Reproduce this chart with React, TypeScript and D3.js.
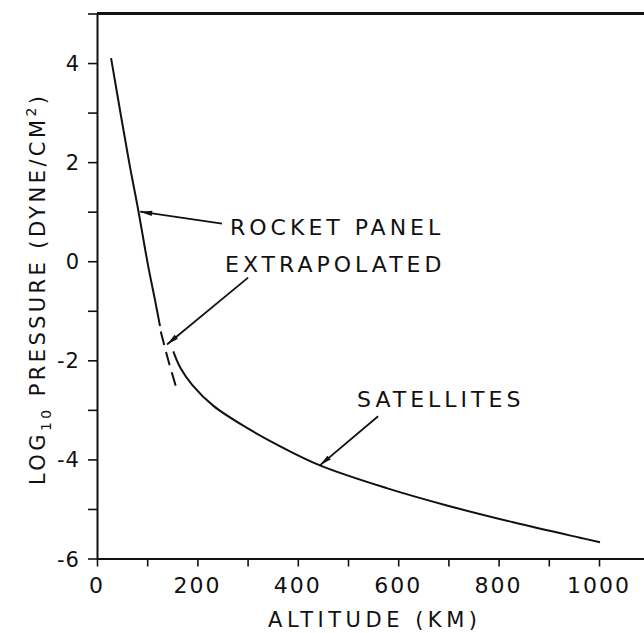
import React, { useEffect, useRef } from 'react';
import * as d3 from 'd3';

// altitude (km) vs log10 pressure (dyne/cm^2)
const rocketAlt = [28, 64, 82, 102, 115.5, 125.5];
const rocketLog = [4.1, 2.0, 1.04, -0.1, -0.78, -1.31];

const extrapAlt = [127, 142, 159];
const extrapLog = [-1.42, -2.0, -2.59];

const satAlt = [152, 166, 190, 232, 298, 364, 444, 577, 697, 829, 962, 1002];
const satLog = [-1.82, -2.15, -2.5, -2.92, -3.36, -3.73, -4.12, -4.58, -4.93, -5.27, -5.58, -5.67];

const xTicks = [0, 100, 200, 300, 400, 500, 600, 700, 800, 900, 1000, 1100];
const xTickLabels = [0, 200, 400, 600, 800, 1000];
const yTicks = [-6, -5, -4, -3, -2, -1, 0, 1, 2, 3, 4, 5];
const yTickLabels = [-6, -4, -2, 0, 2, 4];

// labels: text anchor (alt, log), arrow tail and arrow tip in data units
const noteText = ['ROCKET PANEL', 'EXTRAPOLATED', 'SATELLITES'];
const noteAt = [[265, 0.53], [255, -0.21], [518, -2.95]];
const noteTail = [[249, 0.76], [301, -0.33], [560, -3.13]];
const noteTip = [[86, 1.0], [139.5, -1.68], [444, -4.12]];

export default function App() {
  const ref = useRef<SVGSVGElement>(null);

  useEffect(() => {
    const svg = d3.select(ref.current);
    svg.selectAll('*').remove();
    const font = '"DejaVu Sans", sans-serif';

    const x = d3.scaleLinear().domain([0, 1100]).range([97, 649.2]);
    const y = d3.scaleLinear().domain([-6, 5]).range([558.5, 13.5]);

    // frame
    svg.append('line')
      .attr('x1', x(0)).attr('x2', x(1100))
      .attr('y1', y(5)).attr('y2', y(5))
      .attr('stroke', '#111').attr('stroke-width', 3);

    // x axis
    const xa = svg.append('g')
      .attr('transform', `translate(0,${y(-6)})`)
      .call(d3.axisBottom(x).tickValues(xTicks).tickSize(8).tickFormat(() => '').tickSizeOuter(0));
    xa.select('.domain').attr('stroke', '#111').attr('stroke-width', 2);
    xa.selectAll('.tick line').attr('stroke', '#111').attr('stroke-width', 1.6);

    svg.append('g').selectAll('text')
      .data(xTickLabels)
      .enter().append('text')
      .attr('x', d => x(d))
      .attr('y', 593)
      .attr('text-anchor', 'middle')
      .attr('font-family', font)
      .attr('font-size', 22)
      .attr('letter-spacing', 2)
      .attr('fill', '#111')
      .text(d => String(d));

    // y axis
    const ya = svg.append('g')
      .attr('transform', `translate(${x(0)},0)`)
      .call(d3.axisLeft(y).tickValues(yTicks).tickSize(9).tickFormat(() => '').tickSizeOuter(0));
    ya.select('.domain').attr('stroke', '#111').attr('stroke-width', 2);
    ya.selectAll('.tick line').attr('stroke', '#111').attr('stroke-width', 1.6);

    svg.append('g').selectAll('text')
      .data(yTickLabels)
      .enter().append('text')
      .attr('x', 80)
      .attr('y', d => y(d) + 8)
      .attr('text-anchor', 'end')
      .attr('font-family', font)
      .attr('font-size', 21)
      .attr('letter-spacing', 1)
      .attr('fill', '#111')
      .text(d => (d < 0 ? '-' + Math.abs(d) : String(d)));

    // axis titles
    svg.append('text')
      .attr('x', 268).attr('y', 627)
      .attr('font-family', font)
      .attr('font-size', 21)
      .attr('textLength', 209)
      .attr('lengthAdjust', 'spacing')
      .attr('fill', '#111')
      .text('ALTITUDE (KM)');

    const yt = svg.append('text')
      .attr('transform', 'translate(45,485) rotate(-90)')
      .attr('font-family', font)
      .attr('font-size', 21)
      .attr('letter-spacing', 3.4)
      .attr('fill', '#111');
    yt.append('tspan').text('LOG');
    yt.append('tspan').attr('dy', 6).attr('font-size', 14).text('10');
    yt.append('tspan').attr('dy', -6).text(' PRESSURE (DYNE/CM');
    yt.append('tspan').attr('dy', -9).attr('font-size', 14).text('2');
    yt.append('tspan').attr('dy', 9).text(')');

    // curves
    const line = d3.line<number>()
      .curve(d3.curveCatmullRom.alpha(0.5));

    svg.append('path')
      .attr('d', line.x((_, i) => x(rocketAlt[i])).y(d => y(d))(rocketLog))
      .attr('fill', 'none').attr('stroke', '#111').attr('stroke-width', 2);

    svg.append('path')
      .attr('d', line.x((_, i) => x(extrapAlt[i])).y(d => y(d))(extrapLog))
      .attr('fill', 'none').attr('stroke', '#111').attr('stroke-width', 2)
      .attr('stroke-dasharray', '14,7');

    svg.append('path')
      .attr('d', line.x((_, i) => x(satAlt[i])).y(d => y(d))(satLog))
      .attr('fill', 'none').attr('stroke', '#111').attr('stroke-width', 2);

    // annotations with arrows
    noteText.forEach((t, i) => {
      svg.append('text')
        .attr('x', x(noteAt[i][0]))
        .attr('y', y(noteAt[i][1]))
        .attr('font-family', font)
        .attr('font-size', 22)
        .attr('letter-spacing', 4)
        .attr('fill', '#111')
        .text(t);

      const x1 = x(noteTail[i][0]), y1 = y(noteTail[i][1]);
      const x2 = x(noteTip[i][0]), y2 = y(noteTip[i][1]);
      svg.append('line')
        .attr('x1', x1).attr('y1', y1).attr('x2', x2).attr('y2', y2)
        .attr('stroke', '#111').attr('stroke-width', 1.8);

      const ang = Math.atan2(y2 - y1, x2 - x1);
      const len = 12, half = 2.6;
      const bx = x2 - len * Math.cos(ang), by = y2 - len * Math.sin(ang);
      const px = -Math.sin(ang) * half, py = Math.cos(ang) * half;
      svg.append('path')
        .attr('d', `M${x2},${y2}L${bx + px},${by + py}L${bx - px},${by - py}Z`)
        .attr('fill', '#111');
    });
  }, []);

  return (
    <svg
      ref={ref}
      width={644}
      height={633}
      style={{ position: 'absolute', left: 0, top: 0, background: '#fff' }}
    />
  );
}
